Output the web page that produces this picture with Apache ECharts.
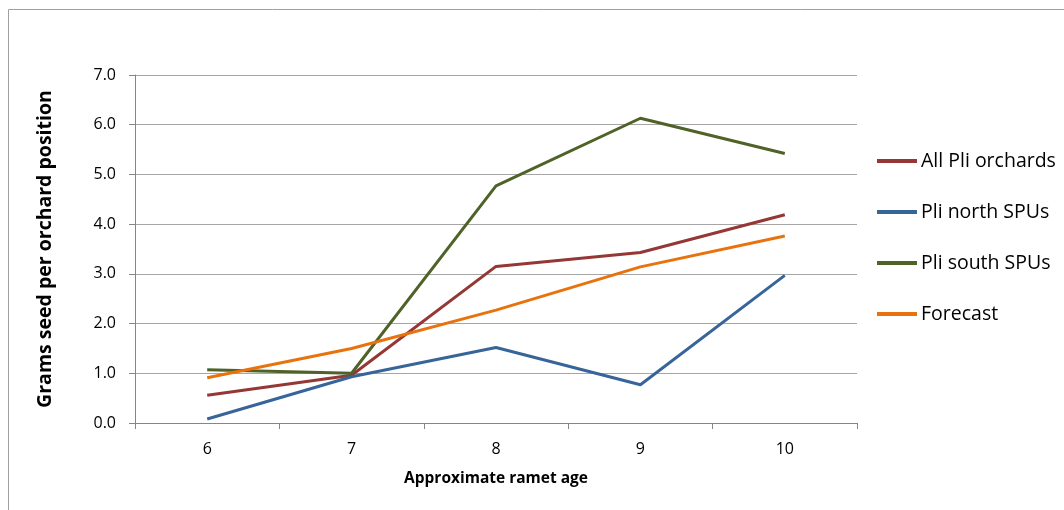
<!DOCTYPE html>
<html>
<head>
<meta charset="utf-8">
<script src="https://cdn.jsdelivr.net/npm/echarts@6/dist/echarts.min.js"></script>
<style>
html,body{margin:0;padding:0;background:#fff;}
#chart{width:1064px;height:510px;}
</style>
</head>
<body>
<div id="chart"></div>
<script>
const categories = ['6', '7', '8', '9', '10'];
const allPli = [0.56, 0.96, 3.15, 3.43, 4.19];
const pliNorth = [0.08, 0.93, 1.52, 0.77, 2.97];
const pliSouth = [1.07, 1.0, 4.77, 6.13, 5.42];
const forecast = [0.91, 1.5, 2.27, 3.14, 3.76];
const seriesNames = ['All Pli orchards', 'Pli north SPUs', 'Pli south SPUs', 'Forecast'];
const seriesData = [allPli, pliNorth, pliSouth, forecast];
const colors = ['#953735', '#386599', '#4f6228', '#e8730e'];
const yTicks = [0, 7, 1];

const FONT = '"Open Sans", Lato, sans-serif';
const chart = echarts.init(document.getElementById('chart'));
chart.setOption({
  animation: false,
  color: colors,
  textStyle: {fontFamily: FONT},
  graphic: [{
    type: 'rect',
    shape: {x: 8.5, y: 9.5, width: 1100, height: 600},
    style: {fill: 'none', stroke: '#a0a0a0', lineWidth: 1},
    silent: true,
    z: -1
  }],
  grid: {left: 135, top: 75, width: 722, height: 348, containLabel: false},
  legend: {
    orient: 'vertical',
    left: 877,
    top: 151,
    padding: 0,
    itemWidth: 40,
    itemHeight: 4,
    itemGap: 31,
    icon: 'rect',
    data: seriesNames,
    textStyle: {fontFamily: FONT, fontSize: 19.5, color: '#000', lineHeight: 20, padding: [0, 0, 0, -1]}
  },
  xAxis: {
    type: 'category',
    data: categories,
    boundaryGap: true,
    name: 'Approximate ramet age',
    nameLocation: 'middle',
    nameGap: 48,
    nameTextStyle: {fontFamily: FONT, fontSize: 15.5, fontWeight: 'bold', color: '#000'},
    axisLine: {lineStyle: {color: '#868686', width: 1}},
    axisTick: {show: true, alignWithLabel: false, length: 6, inside: false, lineStyle: {color: '#868686'}},
    axisLabel: {fontFamily: FONT, fontSize: 16, color: '#000', margin: 18},
    splitLine: {show: false}
  },
  yAxis: {
    type: 'value',
    min: yTicks[0],
    max: yTicks[1],
    interval: yTicks[2],
    name: 'Grams seed per orchard position',
    nameLocation: 'middle',
    nameGap: 80,
    nameTextStyle: {fontFamily: FONT, fontSize: 19.5, fontWeight: 'bold', color: '#000'},
    axisLine: {show: true, lineStyle: {color: '#868686', width: 1}},
    axisTick: {show: true, length: 6, lineStyle: {color: '#868686'}},
    axisLabel: {fontFamily: FONT, fontSize: 16, color: '#000', margin: 19, formatter: v => v.toFixed(1)},
    splitLine: {show: true, lineStyle: {color: '#a6a6a6', width: 1}}
  },
  series: seriesNames.map((n, i) => ({
    name: n,
    type: 'line',
    data: seriesData[i],
    showSymbol: false,
    symbol: 'none',
    lineStyle: {width: 3, color: colors[i]},
    itemStyle: {color: colors[i]}
  }))
});
</script>
</body>
</html>
